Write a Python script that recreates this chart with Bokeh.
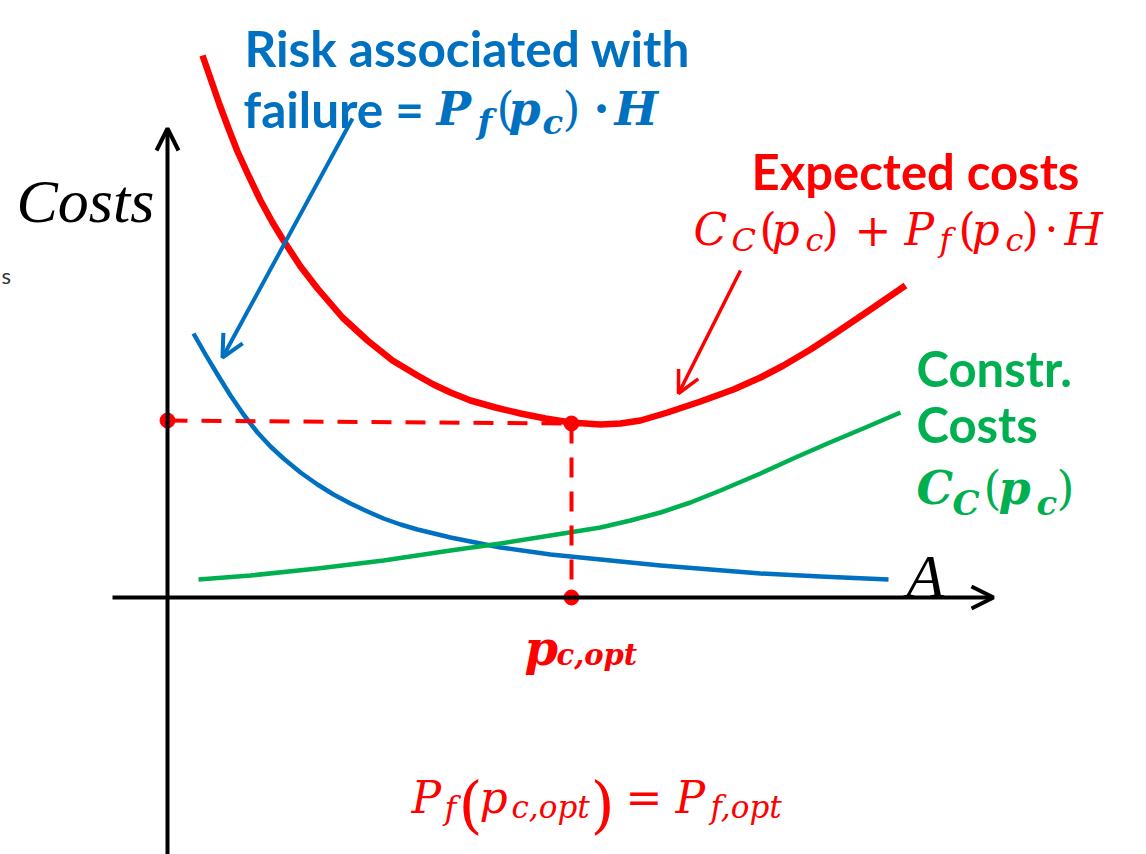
from bokeh.plotting import figure
from bokeh.models import Range1d, Arrow, OpenHead
from bokeh.core.properties import value
from bokeh.embed import file_html
from bokeh.resources import INLINE

# ---- data (abstract units: design parameter p_c on x, costs on y; origin at axes crossing)
risk_x = [26, 38, 50, 63, 76, 90, 103, 116, 133, 150, 166, 183, 200, 216, 233, 250,
          283, 308, 333, 383, 433, 493, 543, 593, 653, 721]
risk_y = [264, 243, 223, 202, 183, 165, 151, 139, 125, 113, 103, 94, 86, 79, 73, 68,
          60, 55, 50, 43, 38, 32, 28, 24, 21, 18]

constr_x = [31, 83, 150, 216, 283, 333, 383, 433, 463, 493, 523, 553, 593, 628, 660, 698, 733]
constr_y = [18, 22, 29, 37, 47, 54, 62, 70, 77, 85, 95, 107, 124, 140, 154, 170, 185]

expected_x = [35, 43, 52, 61, 70, 81, 93, 105, 116, 133, 150, 175, 200, 225, 250, 266,
              283, 303, 328, 353, 378, 403, 433, 453, 473, 500, 533, 566, 593, 616,
              643, 666, 703, 738]
expected_y = [542, 519, 493, 469, 446, 422, 397, 375, 357, 331, 309, 280, 257, 237, 222, 213,
              205, 197, 190, 184, 179, 175, 173, 174, 177, 185, 196, 208, 220, 232,
              248, 263, 288, 312]

opt_p = 404          # p_c,opt
opt_cost = 174       # minimum expected cost
opt_cost_axis = 177  # where the dashed guide meets the cost axis

RED = "#FF0000"
BLUE = "#0070C0"
GREEN = "#00B050"
SANS = "Lato"
SERIF = "Liberation Serif"
MATH = "DejaVu Serif"

OX, OY = 167, 597  # pixel position of the axes crossing

p = figure(width=1146, height=854, output_backend="svg", toolbar_location=None,
           x_range=Range1d(-OX, 1146 - OX), y_range=Range1d(OY - 854, OY),
           min_border=0, min_border_left=0, min_border_right=0,
           min_border_top=0, min_border_bottom=0)
p.xaxis.visible = False
p.yaxis.visible = False
p.xgrid.visible = False
p.ygrid.visible = False
p.outline_line_color = None
p.background_fill_color = "white"
p.border_fill_color = "white"


def X(px):
    return px - OX


def Y(py):
    return OY - py


def txt(xp, yp, s, size, color, font, style="normal", align="left"):
    p.text(x=[X(xp)], y=[Y(yp)], text=[s], text_font=value(font),
           text_font_size=f"{size}px", text_color=color, text_font_style=style,
           text_align=align, text_baseline="alphabetic")


# axes with arrows
p.add_layout(Arrow(x_start=X(OX), y_start=Y(860), x_end=X(OX), y_end=Y(128),
                   line_width=4, line_color="black",
                   end=OpenHead(size=22, line_width=4, line_color="black")))
p.add_layout(Arrow(x_start=X(112), y_start=0, x_end=X(993), y_end=0,
                   line_width=4, line_color="black",
                   end=OpenHead(size=22, line_width=4, line_color="black")))

# curves
p.line(risk_x, risk_y, line_color=BLUE, line_width=4.5, line_join="round")
p.line(constr_x, constr_y, line_color=GREEN, line_width=4.5, line_join="round")

# optimum guides
p.line([0, opt_p], [opt_cost_axis, opt_cost], line_color=RED, line_width=4,
       line_dash="20 14")
p.line([opt_p, opt_p], [opt_cost, 0], line_color=RED, line_width=4,
       line_dash="20 14")

p.line(expected_x, expected_y, line_color=RED, line_width=6.5, line_join="round")

p.scatter([0, opt_p, opt_p], [opt_cost_axis, opt_cost, 0], size=15,
          fill_color=RED, line_color=RED)

# pointer arrows
p.add_layout(Arrow(x_start=X(352), y_start=Y(118), x_end=X(222), y_end=Y(357),
                   line_width=4, line_color=BLUE,
                   end=OpenHead(size=22, line_width=4, line_color=BLUE)))
p.add_layout(Arrow(x_start=X(740), y_start=Y(270), x_end=X(678), y_end=Y(393),
                   line_width=3.5, line_color=RED,
                   end=OpenHead(size=22, line_width=3.5, line_color=RED)))

# stray small text at left edge
txt(1, 275, "s", 22, "#333333", SANS)

# axis labels
txt(16, 200, "Costs", 62, "black", SERIF, "italic")
txt(906, 575, "A", 62, "black", SERIF, "italic")

# blue label
txt(244, 47, "Risk associated with", 49.5, BLUE, SANS, "bold")
txt(243, 108, "failure =", 49.5, BLUE, SANS, "bold")
txt(436, 108, "P", 46, BLUE, MATH, "bold italic")
txt(477, 121, "f", 34, BLUE, MATH, "bold italic")
txt(496, 108, "(", 46, BLUE, MATH, "normal")
txt(508, 108, "p", 46, BLUE, MATH, "bold italic")
txt(542, 121, "c", 34, BLUE, MATH, "bold italic")
txt(562, 108, ")", 46, BLUE, MATH, "normal")
txt(593, 108, "·", 46, BLUE, MATH, "bold")
txt(614, 108, "H", 46, BLUE, MATH, "bold italic")

# red label
txt(751, 170, "Expected costs", 49, RED, SANS, "bold")
txt(693, 229, "C", 44, RED, MATH, "italic")
txt(731, 239, "C", 32, RED, MATH, "italic")
txt(759, 229, "(", 44, RED, MATH, "normal")
txt(771, 229, "p", 44, RED, MATH, "italic")
txt(805, 239, "c", 32, RED, MATH, "italic")
txt(821, 229, ")", 44, RED, MATH, "normal")
txt(854, 229, "+", 44, RED, MATH, "normal")
txt(904, 229, "P", 44, RED, MATH, "italic")
txt(939, 239, "f", 32, RED, MATH, "italic")
txt(958, 229, "(", 44, RED, MATH, "normal")
txt(971, 229, "p", 44, RED, MATH, "italic")
txt(1005, 239, "c", 32, RED, MATH, "italic")
txt(1021, 229, ")", 44, RED, MATH, "normal")
txt(1044, 229, "·", 44, RED, MATH, "normal")
txt(1064, 229, "H", 44, RED, MATH, "italic")

# green label
txt(916, 367, "Constr.", 49, GREEN, SANS, "bold")
txt(916, 423, "Costs", 49, GREEN, SANS, "bold")
txt(916, 487, "C", 46, GREEN, MATH, "bold italic")
txt(952, 502, "C", 34, GREEN, MATH, "bold italic")
txt(983, 487, "(", 46, GREEN, MATH, "normal")
txt(998, 487, "p", 46, GREEN, MATH, "bold italic")
txt(1036, 502, "c", 34, GREEN, MATH, "bold italic")
txt(1056, 487, ")", 46, GREEN, MATH, "normal")

# optimum label on x axis
txt(524, 647, "p", 48, RED, MATH, "bold italic")
txt(556, 654, "c,opt", 29, RED, MATH, "bold italic")

# bottom formula
txt(411, 797, "P", 44, RED, MATH, "italic")
txt(444, 807, "f", 32, RED, MATH, "italic")
txt(458, 804, "(", 62, RED, MATH, "normal")
txt(479, 797, "p", 44, RED, MATH, "italic")
txt(511, 806, "c,opt", 31, RED, MATH, "italic")
txt(590, 804, ")", 62, RED, MATH, "normal")
txt(625, 797, "=", 44, RED, MATH, "normal")
txt(675, 797, "P", 44, RED, MATH, "italic")
txt(710, 806, "f,opt", 31, RED, MATH, "italic")

open("out.html", "w").write(file_html(p, INLINE))
